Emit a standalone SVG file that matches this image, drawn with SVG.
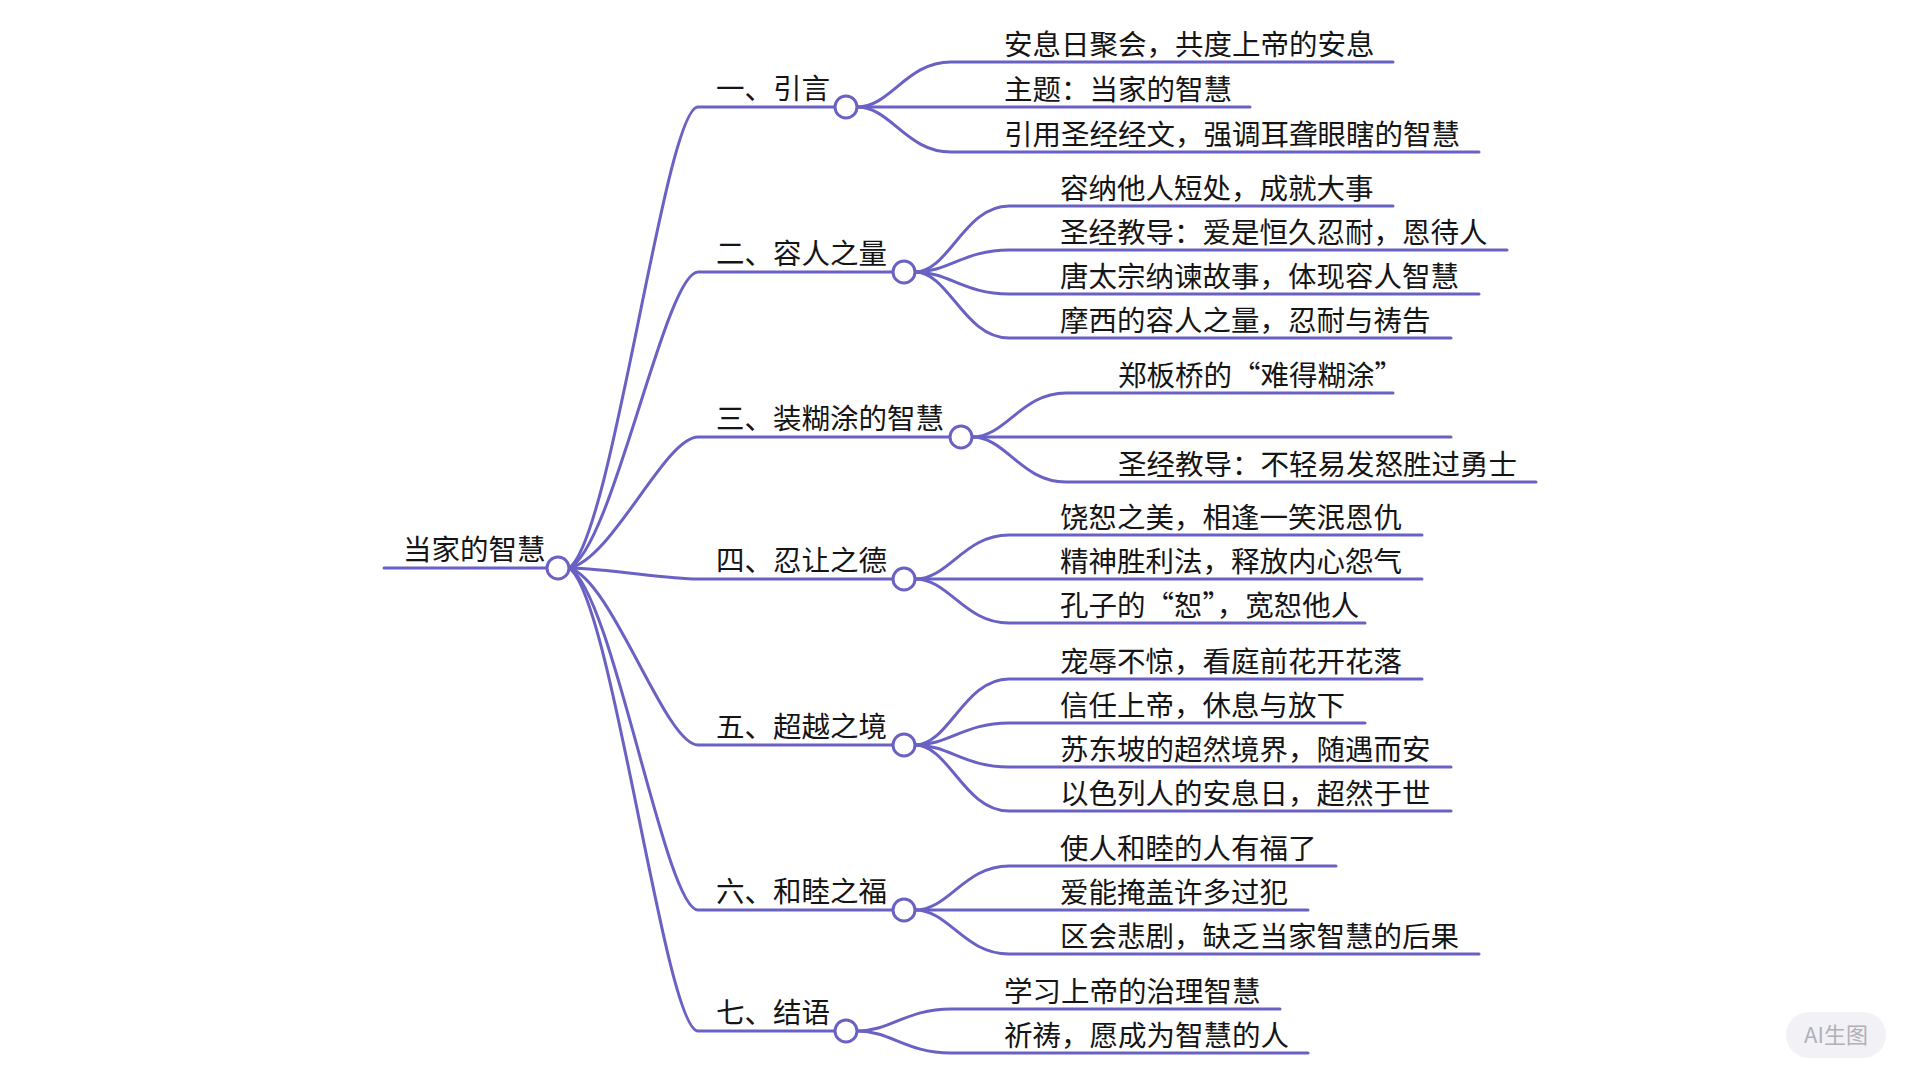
<svg xmlns="http://www.w3.org/2000/svg" width="1920" height="1080" viewBox="0 0 1920 1080">
<style>
.ln{fill:none;stroke:#6961c4;stroke-width:3;stroke-linecap:round}
.dot{fill:#fff;stroke:#6961c4;stroke-width:3}
text{font-family:"Noto Sans CJK SC","Noto Sans",sans-serif;font-size:28.5px;fill:#151515}
.wm{font-family:"Noto Sans CJK SC","Noto Sans",sans-serif;font-size:22px;fill:#b0b0b8}
</style>
<rect width="1920" height="1080" fill="#fff"/>
<g id="connectors">
<path class="ln" d="M384,568 L547,568"/>
<path class="ln" d="M569,568 C612,540 665,107 698,107 L835,107"/>
<path class="ln" d="M569,568 C612,550 665,272 698,272 L893,272"/>
<path class="ln" d="M569,568 C612,560 665,437 698,437 L950,437"/>
<path class="ln" d="M569,568 C612,569 665,579 698,579 L893,579"/>
<path class="ln" d="M569,568 C612,579 665,745 698,745 L893,745"/>
<path class="ln" d="M569,568 C612,589 665,910 698,910 L893,910"/>
<path class="ln" d="M569,568 C612,596 665,1031 698,1031 L835,1031"/>
<path class="ln" d="M857,107 C891,107 906,62 951,62 L1393,62"/>
<path class="ln" d="M857,107 L1250,107"/>
<path class="ln" d="M857,107 C891,107 906,152 951,152 L1479,152"/>
<path class="ln" d="M915,272 C949,272 964,206 1009,206 L1393,206"/>
<path class="ln" d="M915,272 C949,272 964,250 1009,250 L1507,250"/>
<path class="ln" d="M915,272 C949,272 964,294 1009,294 L1479,294"/>
<path class="ln" d="M915,272 C949,272 964,338 1009,338 L1451,338"/>
<path class="ln" d="M972,437 C1006,437 1021,393 1066,393 L1393,393"/>
<path class="ln" d="M972,437 L1451,437"/>
<path class="ln" d="M972,437 C1006,437 1021,482 1066,482 L1536,482"/>
<path class="ln" d="M915,579 C949,579 964,535 1009,535 L1422,535"/>
<path class="ln" d="M915,579 L1422,579"/>
<path class="ln" d="M915,579 C949,579 964,623 1009,623 L1365,623"/>
<path class="ln" d="M915,745 C949,745 964,679 1009,679 L1422,679"/>
<path class="ln" d="M915,745 C949,745 964,723 1009,723 L1365,723"/>
<path class="ln" d="M915,745 C949,745 964,767 1009,767 L1451,767"/>
<path class="ln" d="M915,745 C949,745 964,811 1009,811 L1451,811"/>
<path class="ln" d="M915,910 C949,910 964,866 1009,866 L1336,866"/>
<path class="ln" d="M915,910 L1308,910"/>
<path class="ln" d="M915,910 C949,910 964,954 1009,954 L1479,954"/>
<path class="ln" d="M857,1031 C891,1031 906,1009 951,1009 L1280,1009"/>
<path class="ln" d="M857,1031 C891,1031 906,1053 951,1053 L1308,1053"/>
</g>
<g id="root"><text x="403" y="560">当家的智慧</text><circle class="dot" cx="558" cy="568" r="11"/></g>
<g id="b1"><text x="716" y="99">一、引言</text><circle class="dot" cx="846" cy="107" r="11"/></g>
<g id="b2"><text x="716" y="264">二、容人之量</text><circle class="dot" cx="904" cy="272" r="11"/></g>
<g id="b3"><text x="716" y="429">三、装糊涂的智慧</text><circle class="dot" cx="961" cy="437" r="11"/></g>
<g id="b4"><text x="716" y="571">四、忍让之德</text><circle class="dot" cx="904" cy="579" r="11"/></g>
<g id="b5"><text x="716" y="737">五、超越之境</text><circle class="dot" cx="904" cy="745" r="11"/></g>
<g id="b6"><text x="716" y="902">六、和睦之福</text><circle class="dot" cx="904" cy="910" r="11"/></g>
<g id="b7"><text x="716" y="1023">七、结语</text><circle class="dot" cx="846" cy="1031" r="11"/></g>
<g id="b1-leaves">
<text x="1004" y="55">安息日聚会，共度上帝的安息</text>
<text x="1004" y="100">主题：当家的智慧</text>
<text x="1004" y="145">引用圣经经文，强调耳聋眼瞎的智慧</text>
</g>
<g id="b2-leaves">
<text x="1060" y="199">容纳他人短处，成就大事</text>
<text x="1060" y="243">圣经教导：爱是恒久忍耐，恩待人</text>
<text x="1060" y="287">唐太宗纳谏故事，体现容人智慧</text>
<text x="1060" y="331">摩西的容人之量，忍耐与祷告</text>
</g>
<g id="b3-leaves">
<text x="1118" y="386">郑板桥的“难得糊涂”</text>
<text x="1118" y="475">圣经教导：不轻易发怒胜过勇士</text>
</g>
<g id="b4-leaves">
<text x="1060" y="528">饶恕之美，相逢一笑泯恩仇</text>
<text x="1060" y="572">精神胜利法，释放内心怨气</text>
<text x="1060" y="616">孔子的“恕”，宽恕他人</text>
</g>
<g id="b5-leaves">
<text x="1060" y="672">宠辱不惊，看庭前花开花落</text>
<text x="1060" y="716">信任上帝，休息与放下</text>
<text x="1060" y="760">苏东坡的超然境界，随遇而安</text>
<text x="1060" y="804">以色列人的安息日，超然于世</text>
</g>
<g id="b6-leaves">
<text x="1060" y="859">使人和睦的人有福了</text>
<text x="1060" y="903">爱能掩盖许多过犯</text>
<text x="1060" y="947">区会悲剧，缺乏当家智慧的后果</text>
</g>
<g id="b7-leaves">
<text x="1004" y="1002">学习上帝的治理智慧</text>
<text x="1004" y="1046">祈祷，愿成为智慧的人</text>
</g>
<g id="watermark">
<rect x="1786" y="1012" width="100" height="46" rx="23" fill="#f2f2f6"/>
<text class="wm" x="1836" y="1043" text-anchor="middle">AI生图</text>
</g>
</svg>
